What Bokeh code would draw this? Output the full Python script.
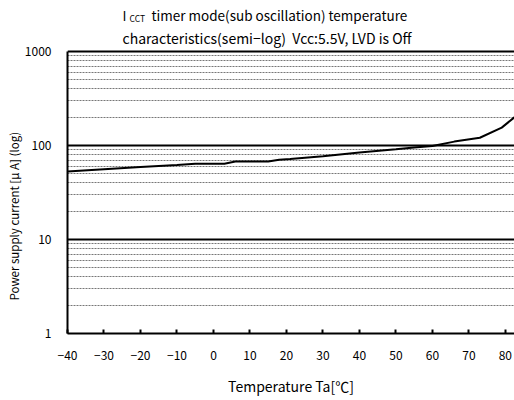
from bokeh.plotting import figure
from bokeh.models import Range1d, FixedTicker, Label, Title
from bokeh.embed import file_html
from bokeh.resources import INLINE

temps = [-40, -30, -20, -10, -5, 0, 3, 6, 15, 18, 21, 30, 40, 50, 55, 60, 66, 73, 79, 85]
current = [53, 56, 59, 62, 64, 64, 64, 67.5, 67.5, 70.5, 72, 77, 84, 91, 95, 99, 110, 121, 155, 240]

x_ticks = [-40, -30, -20, -10, 0, 10, 20, 30, 40, 50, 60, 70, 80]
y_ticks = [1, 10, 100, 1000]
y_minor = [m * d for d in (1, 10, 100) for m in range(2, 10)]

FONT = "Noto Sans CJK JP"

# frame extends upward above 1000 so that the title (drawn as labels) lies inside it
Y_TOP = 1000 * 10 ** (51 / 94)

p = figure(frame_width=447, frame_height=333, output_backend="svg", toolbar_location=None,
           y_axis_type="log", x_range=Range1d(-40, 82.5), y_range=Range1d(1, Y_TOP),
           min_border_left=67, min_border_right=0, min_border_top=0, min_border_bottom=59)
p.outline_line_color = None
p.background_fill_color = "white"
p.border_fill_color = "white"

# grids
p.xgrid.grid_line_color = None
p.yaxis.ticker = FixedTicker(ticks=y_ticks, minor_ticks=y_minor)
p.ygrid.grid_line_color = "black"
p.ygrid.grid_line_width = 2
p.ygrid.minor_grid_line_color = "#777777"
p.ygrid.minor_grid_line_dash = "2 1"
p.ygrid.minor_grid_line_width = 1

# y axis
p.yaxis.bounds = (1, 1000)
p.yaxis.axis_line_width = 2
p.yaxis.axis_line_color = "black"
p.yaxis.major_tick_line_color = None
p.yaxis.minor_tick_line_color = None
p.yaxis.major_label_overrides = {1: "1", 10: "10", 100: "100", 1000: "1000"}
p.yaxis.major_label_text_font = FONT
p.yaxis.major_label_text_font_size = "12px"
p.yaxis.major_label_text_color = "black"
p.yaxis.major_label_standoff = 10

# x axis
p.xaxis.ticker = FixedTicker(ticks=x_ticks)
p.xaxis.axis_line_width = 2
p.xaxis.axis_line_color = "black"
p.xaxis.major_tick_in = 4
p.xaxis.major_tick_out = 0
p.xaxis.major_tick_line_width = 2
p.xaxis.minor_tick_line_color = None
p.xaxis.major_label_overrides = {t: (str(t).replace("-", "−")) for t in x_ticks}
p.xaxis.major_label_text_font = FONT
p.xaxis.major_label_text_font_size = "12px"
p.xaxis.major_label_text_color = "black"
p.xaxis.major_label_standoff = 17
p.xaxis.axis_label = "Temperature Ta[℃]"
p.xaxis.axis_label_text_font = FONT
p.xaxis.axis_label_text_font_size = "14px"
p.xaxis.axis_label_text_font_style = "normal"
p.xaxis.axis_label_text_color = "black"
p.xaxis.axis_label_standoff = 13

# y axis title (left panel, placed along the axis)
p.add_layout(Title(text="Power supply current [μ A] (log)", align="left", offset=33,
                   standoff=0, text_font=FONT, text_font_size="11.5px",
                   text_font_style="normal", text_color="black"), "left")

p.line(temps, current, line_color="black", line_width=2)

# chart title (with subscript); screen units are relative to the frame's bottom-left
def lab(x, y, text, size):
    p.add_layout(Label(x=x, y=y, x_units="screen", y_units="screen", text=text,
                       text_font=FONT, text_font_size=size, text_color="black",
                       text_baseline="middle", text_align="left"))

lab(55, 319, "I", "13.5px")
lab(62, 316, "CCT", "8.5px")
lab(84, 319, "timer mode(sub oscillation) temperature", "13.5px")
lab(55, 296, "characteristics(semi−log)\u00a0\u00a0Vcc:5.5V, LVD is Off", "14px")

open("out.html", "w").write(file_html(p, INLINE))
